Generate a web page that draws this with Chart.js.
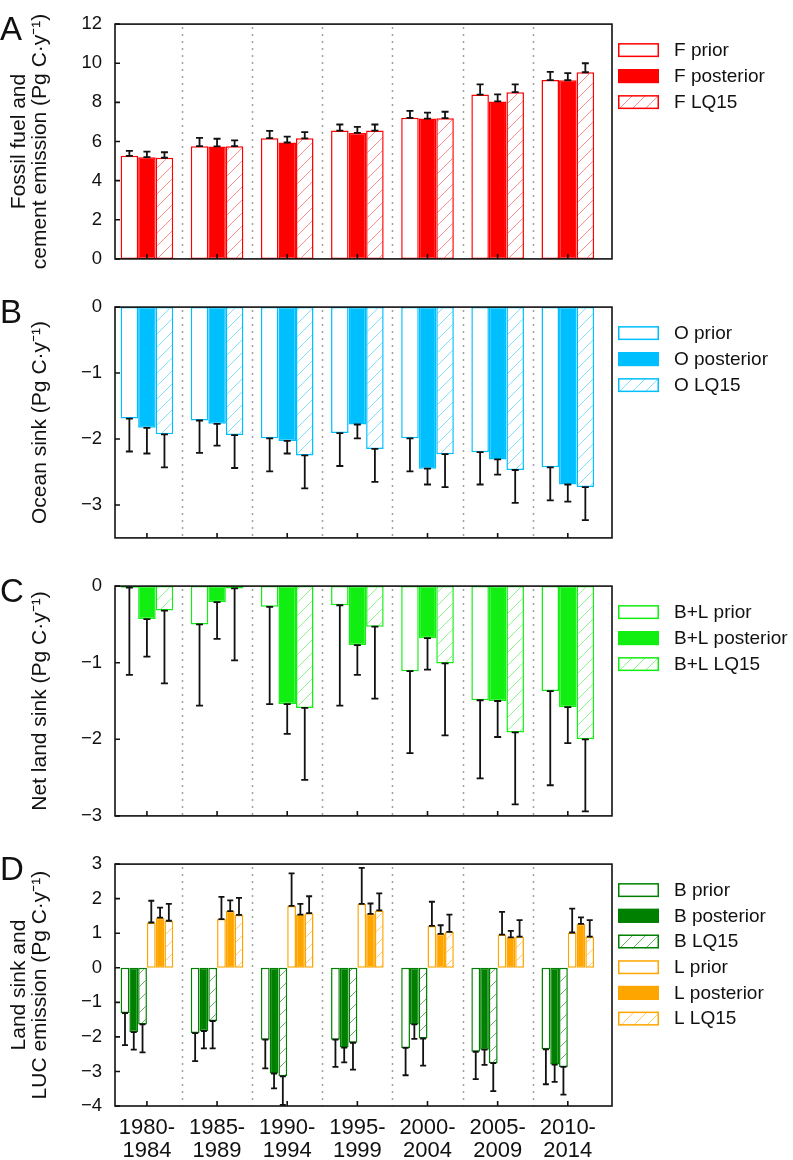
<!DOCTYPE html>
<html><head><meta charset="utf-8">
<script src="https://cdn.jsdelivr.net/npm/chart.js@4.4.1/dist/chart.umd.min.js"></script>
<style>
html,body{margin:0;padding:0;background:#fff;}
#wrap{position:relative;width:793px;height:1160px;overflow:hidden;}
canvas{position:absolute;left:0;}
</style></head><body>
<div id="wrap">
<canvas id="cA" width="793" height="283" style="top:0px"></canvas>
<canvas id="cB" width="793" height="279" style="top:283px"></canvas>
<canvas id="cC" width="793" height="278" style="top:562px"></canvas>
<canvas id="cD" width="793" height="320" style="top:840px"></canvas>
</div>
<script>
const FONT = '"Liberation Sans", Arial, Helvetica, sans-serif';
Chart.defaults.font.family = FONT;
Chart.defaults.color = '#111';

// ---------- data ----------
const categories = ['1980-1984','1985-1989','1990-1994','1995-1999','2000-2004','2005-2009','2010-2014'];

const yTicksA = [0,2,4,6,8,10,12];
const yTicksB = [0,-1,-2,-3];
const yTicksC = [0,-1,-2,-3];
const yTicksD = [3,2,1,0,-1,-2,-3,-4];

// Panel A: fossil fuel and cement emission
const F_prior     = [5.27,5.76,6.17,6.56,7.21,8.40,9.14];
const F_prior_err = [0.25,0.43,0.37,0.31,0.36,0.52,0.42];
const F_post      = [5.20,5.75,5.95,6.44,7.17,8.05,9.13];
const F_post_err  = [0.28,0.39,0.30,0.31,0.31,0.36,0.36];
const F_lq        = [5.17,5.76,6.16,6.56,7.19,8.52,9.54];
const F_lq_err    = [0.28,0.30,0.32,0.31,0.33,0.40,0.46];

// Panel B: ocean sink
const O_prior     = [-1.69,-1.72,-1.99,-1.91,-1.99,-2.20,-2.43];
const O_prior_err = [0.50,0.49,0.50,0.50,0.50,0.49,0.50];
const O_post      = [-1.83,-1.77,-2.03,-1.78,-2.45,-2.31,-2.69];
const O_post_err  = [0.39,0.33,0.19,0.21,0.24,0.23,0.26];
const O_lq        = [-1.93,-1.94,-2.25,-2.15,-2.23,-2.47,-2.73];
const O_lq_err    = [0.50,0.50,0.50,0.50,0.50,0.50,0.50];

// Panel C: net land sink
const BL_prior     = [-0.02,-0.50,-0.27,-0.25,-1.11,-1.49,-1.37];
const BL_prior_err = [1.14,1.06,1.27,1.31,1.07,1.02,1.23];
const BL_post      = [-0.43,-0.21,-1.54,-0.77,-0.68,-1.50,-1.58];
const BL_post_err  = [0.49,0.48,0.39,0.39,0.41,0.47,0.47];
const BL_lq        = [-0.32,-0.03,-1.59,-0.53,-1.01,-1.91,-2.00];
const BL_lq_err    = [0.95,0.94,0.94,0.94,0.94,0.94,0.94];

// Panel D: land sink and LUC emission
const B_prior     = [-1.31,-1.89,-2.08,-2.08,-2.32,-2.43,-2.36];
const B_prior_err = [0.93,0.81,0.83,0.79,0.79,0.79,1.01];
const B_post      = [-1.86,-1.83,-3.06,-2.31,-1.64,-2.37,-2.80];
const B_post_err  = [0.51,0.50,0.43,0.43,0.42,0.44,0.50];
const B_lq        = [-1.64,-1.54,-3.14,-2.17,-2.05,-2.76,-2.87];
const B_lq_err    = [0.81,0.79,0.83,0.78,0.78,0.81,0.80];
const L_prior     = [1.31,1.41,1.79,1.85,1.21,0.96,1.02];
const L_prior_err = [0.63,0.64,0.94,1.04,0.70,0.66,0.69];
const L_post      = [1.45,1.64,1.54,1.56,0.98,0.88,1.27];
const L_post_err  = [0.29,0.31,0.31,0.30,0.25,0.19,0.19];
const L_lq        = [1.36,1.53,1.58,1.66,1.04,0.90,0.90];
const L_lq_err    = [0.49,0.49,0.49,0.49,0.50,0.48,0.48];

// ---------- styling helpers ----------
function hatch(color){
  const s = 13, c = document.createElement('canvas');
  c.width = s; c.height = s;
  const g = c.getContext('2d');
  g.fillStyle = '#fff'; g.fillRect(0,0,s,s);
  g.strokeStyle = color; g.lineWidth = 1;
  g.beginPath();
  g.moveTo(-1,s+1); g.lineTo(s+1,-1);
  g.moveTo(-2,2); g.lineTo(2,-2);
  g.moveTo(s-2,s+2); g.lineTo(s+2,s-2);
  g.stroke();
  return g.createPattern(c,'repeat');
}
function ds(label, vals, err, color, kind, hcolor){
  return {
    label,
    data: vals.map((v,i)=>({x:i+1, y:v})),
    err,
    borderColor: color,
    borderWidth: 1.5,
    borderSkipped: false,
    backgroundColor: kind==='prior' ? '#ffffff' : (kind==='post' ? color : hatch(hcolor))
  };
}
function fmt(v){ return v<0 ? '\u2212'+Math.abs(v) : String(v); }

const RED='#ff0000', CYAN='#00bfff', LIME='#11ee11', DGREEN='#008000', ORANGE='#ffa500';

const panelPlugin = {
  id:'panel',
  beforeDatasetsDraw(chart){
    const {ctx, chartArea:a, scales:{x}} = chart;
    ctx.save();
    ctx.strokeStyle='#a0a0a0'; ctx.lineWidth=1.5; ctx.setLineDash([2,5]);
    for(let i=1;i<categories.length;i++){
      const px = Math.round(x.getPixelForValue(i+0.5))+0.5;
      ctx.beginPath(); ctx.moveTo(px,a.top+3); ctx.lineTo(px,a.bottom); ctx.stroke();
    }
    ctx.restore();
  },
  afterDatasetsDraw(chart, args, opts){
    const {ctx, chartArea:a, scales:{x,y}} = chart;
    ctx.save();
    ctx.beginPath(); ctx.rect(a.left,a.top,a.width,a.height+1); ctx.clip();
    ctx.strokeStyle='#111'; ctx.lineWidth=1.8;
    const cw = opts.cap;
    chart.data.datasets.forEach((d,di)=>{
      const meta = chart.getDatasetMeta(di);
      meta.data.forEach((bar,i)=>{
        const v = d.data[i].y, e = d.err[i];
        const end = v + (v<0 ? -e : e);
        const y0 = y.getPixelForValue(v), y1 = y.getPixelForValue(end);
        ctx.beginPath();
        ctx.moveTo(bar.x,y0); ctx.lineTo(bar.x,y1);
        ctx.moveTo(bar.x-cw/2,y0); ctx.lineTo(bar.x+cw/2,y0);
        ctx.moveTo(bar.x-cw/2,y1); ctx.lineTo(bar.x+cw/2,y1);
        ctx.stroke();
      });
    });
    ctx.restore();
    // frame and inward ticks
    ctx.save();
    ctx.strokeStyle='#111'; ctx.lineWidth=1.6;
    ctx.strokeRect(a.left,a.top,a.width,a.height);
    ctx.beginPath();
    y.ticks.forEach(t=>{ const py=y.getPixelForValue(t.value); ctx.moveTo(a.left,py); ctx.lineTo(a.left+5,py); });
    x.ticks.forEach(t=>{ const px=x.getPixelForValue(t.value); ctx.moveTo(px,a.bottom); ctx.lineTo(px,a.bottom-5); });
    ctx.stroke();
    ctx.restore();
  },
  afterDraw(chart, args, opts){
    const {ctx, chartArea:a} = chart;
    ctx.save();
    // panel letter
    ctx.fillStyle='#111'; ctx.font='33px '+FONT; ctx.textBaseline='alphabetic'; ctx.textAlign='left';
    ctx.fillText(opts.letter, 0, a.top+16);
    // legend
    ctx.font='19px '+FONT; ctx.textBaseline='middle';
    chart.data.datasets.forEach((d,i)=>{
      const top = a.top + 19 + i*opts.legendStep;
      ctx.fillStyle = d.backgroundColor;
      ctx.fillRect(618, top, 41, 14);
      ctx.strokeStyle = d.borderColor; ctx.lineWidth = 1.5;
      ctx.strokeRect(618.75, top+0.75, 39.5, 12.5);
      ctx.fillStyle='#111';
      ctx.fillText(d.label, 674, top+7.5);
    });
    ctx.restore();
  }
};

const X_MIN = 0.545, X_MAX = 7.63;

function makePanel(id, o){
  return new Chart(document.getElementById(id), {
    type:'bar',
    data:{datasets:o.datasets},
    options:{
      responsive:false, animation:false, devicePixelRatio:1,
      layout:{padding:{top:o.padTop,bottom:o.padBottom,left:0,right:181}},
      datasets:{bar:{barPercentage:1,categoryPercentage:0.75}},
      plugins:{legend:{display:false},tooltip:{enabled:false},
        panel:{letter:o.letter,cap:o.cap,legendStep:o.legendStep}},
      scales:{
        x:{type:'linear',min:X_MIN,max:X_MAX,offset:false,
          grid:{display:false,drawTicks:false}, border:{display:false},
          afterBuildTicks:s=>{ s.ticks = categories.map((c,i)=>({value:i+1})); },
          ticks:{display:o.showX, padding:10, autoSkip:false, maxRotation:0, minRotation:0,
            font:{size:22,lineHeight:1.05}, color:'#111',
            callback:v=>{ const c=categories[Math.round(v)-1]; return c ? [c.slice(0,5), c.slice(5)] : ''; }},
          afterFit:s=>{ s.height = o.xHeight; }
        },
        y:{min:o.yMin,max:o.yMax,
          grid:{display:false,drawTicks:false}, border:{display:false},
          afterBuildTicks:s=>{ s.ticks = o.yTicks.map(v=>({value:v})); },
          ticks:{padding:13,font:{size:18.5},color:'#111',callback:v=>fmt(v)},
          title:{display:true,text:o.title,font:{size:21,lineHeight:1},padding:{top:o.titlePad,bottom:0},color:'#111'},
          afterFit:s=>{ s.width = 115; }
        }
      }
    },
    plugins:[panelPlugin]
  });
}

const UNIT = '(Pg C\u00B7y\u207B\u00B9)';

makePanel('cA', {
  letter:'A', cap:7, legendStep:26, padTop:17, padBottom:13, xHeight:0, showX:false,
  yMin:0, yMax:12, yTicks:yTicksA,
  title:['Fossil fuel and','cement emission '+UNIT], titlePad:9,
  datasets:[
    ds('F prior', F_prior, F_prior_err, RED, 'prior'),
    ds('F posterior', F_post, F_post_err, RED, 'post'),
    ds('F LQ15', F_lq, F_lq_err, RED, 'lq', 'rgba(255,0,0,0.45)')
  ]
});
makePanel('cB', {
  letter:'B', cap:7, legendStep:26, padTop:13, padBottom:12.5, xHeight:0, showX:false,
  yMin:-3.5, yMax:0, yTicks:yTicksB,
  title:'Ocean sink '+UNIT, titlePad:30,
  datasets:[
    ds('O prior', O_prior, O_prior_err, CYAN, 'prior'),
    ds('O posterior', O_post, O_post_err, CYAN, 'post'),
    ds('O LQ15', O_lq, O_lq_err, CYAN, 'lq', 'rgba(0,191,255,0.5)')
  ]
});
makePanel('cC', {
  letter:'C', cap:7, legendStep:26, padTop:12, padBottom:12, xHeight:0, showX:false,
  yMin:-3, yMax:0, yTicks:yTicksC,
  title:'Net land sink '+UNIT, titlePad:30,
  datasets:[
    ds('B+L prior', BL_prior, BL_prior_err, LIME, 'prior'),
    ds('B+L posterior', BL_post, BL_post_err, LIME, 'post'),
    ds('B+L LQ15', BL_lq, BL_lq_err, LIME, 'lq', 'rgba(17,238,17,0.5)')
  ]
});
makePanel('cD', {
  letter:'D', cap:6, legendStep:25.7, padTop:13, padBottom:0, xHeight:54, showX:true,
  yMin:-4, yMax:3, yTicks:yTicksD,
  title:['Land sink and','LUC emission '+UNIT], titlePad:9,
  datasets:[
    ds('B prior', B_prior, B_prior_err, DGREEN, 'prior'),
    ds('B posterior', B_post, B_post_err, DGREEN, 'post'),
    ds('B LQ15', B_lq, B_lq_err, DGREEN, 'lq', 'rgba(0,128,0,0.6)'),
    ds('L prior', L_prior, L_prior_err, ORANGE, 'prior'),
    ds('L posterior', L_post, L_post_err, ORANGE, 'post'),
    ds('L LQ15', L_lq, L_lq_err, ORANGE, 'lq', 'rgba(255,165,0,0.6)')
  ]
});
</script>
</body></html>
